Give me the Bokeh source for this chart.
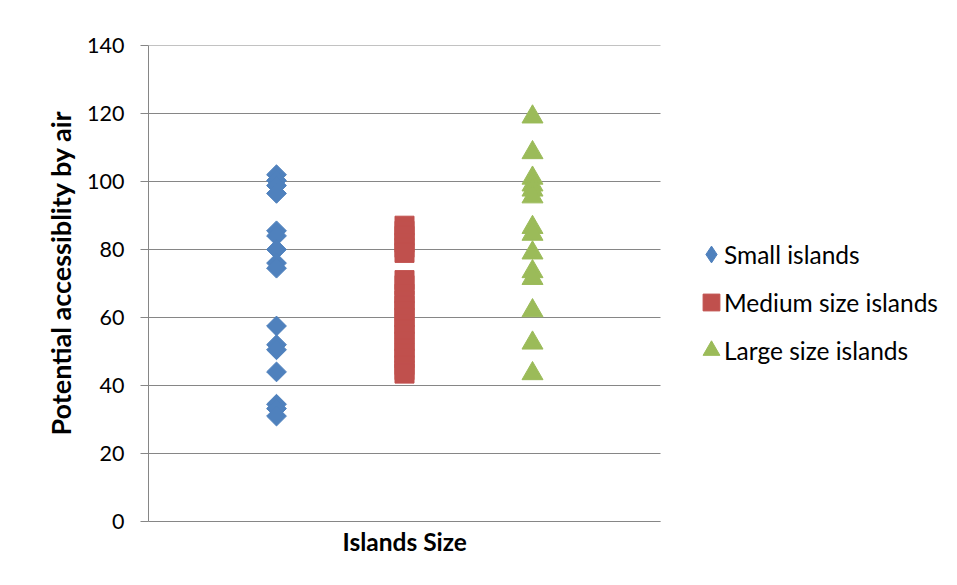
import math
from bokeh.plotting import figure
from bokeh.models import Range1d, FixedTicker, Legend, LegendItem, Title, BoxAnnotation, Node
from bokeh.embed import file_html
from bokeh.resources import INLINE

# ---- data ----
categories = ["Small islands", "Medium size islands", "Large size islands"]
x_positions = [1, 2, 3]
small = [102, 100.3, 98.8, 96.5, 85.5, 84, 80, 76, 74.5, 57.5, 52, 50.5, 44, 34.5, 33.2, 31]
medium = [87, 85.5, 84, 82, 80.5, 79, 71, 69.5, 67, 65, 63.5, 62, 60, 58, 56.5, 55,
          53, 51, 49.5, 48, 46, 44.5, 43.5]
large = [119, 108.5, 101, 99, 97.5, 95.5, 86.5, 84.5, 79, 73.5, 71.5, 62, 52.5, 43.5]
y_ticks = [0, 20, 40, 60, 80, 100, 120, 140]
x_bounds = (0, 4)
x_title = "Islands Size"
y_title = "Potential accessiblity by air"

colors = ["#4F81BD", "#C0504D", "#9BBB59"]
FONT = "Lato"
GRID = "#868686"

p = figure(width=952, height=583, output_backend="svg", toolbar_location=None,
           x_range=Range1d(0, 6.25), y_range=Range1d(0, 140),
           min_border_left=148, min_border_right=4, min_border_top=45, min_border_bottom=62,
           background_fill_color="white", border_fill_color="white")
p.outline_line_color = None
p.xgrid.visible = False
p.ygrid.visible = False

# chart-area frame (top/left edges visible, the rest runs off the picture)
p.add_layout(BoxAnnotation(left=Node(target="canvas", symbol="left", offset=7),
                           top=Node(target="canvas", symbol="top", offset=14),
                           right=Node(target="canvas", symbol="right", offset=20),
                           bottom=Node(target="canvas", symbol="bottom", offset=20),
                           fill_alpha=0, line_color="#2E4A9E", line_width=2))
p.add_layout(BoxAnnotation(left=Node(target="canvas", symbol="left", offset=9),
                           top=Node(target="canvas", symbol="top", offset=16),
                           right=Node(target="canvas", symbol="right", offset=20),
                           bottom=Node(target="canvas", symbol="bottom", offset=20),
                           fill_alpha=0, line_color="#A6A6A6", line_width=1))

# horizontal gridlines limited to the plotting region of the categories
p.segment(x0=[x_bounds[0]] * len(y_ticks), y0=y_ticks,
          x1=[x_bounds[1]] * len(y_ticks), y1=y_ticks,
          line_color=GRID, line_width=1)

r1 = p.scatter([x_positions[0]] * len(small), small, marker="square", angle=math.pi / 4,
               size=14, fill_color=colors[0], line_color=colors[0])
r2 = p.scatter([x_positions[1]] * len(medium), medium, marker="square",
               size=19, fill_color=colors[1], line_color=colors[1])
r3 = p.scatter([x_positions[2]] * len(large), large, marker="triangle",
               size=21, fill_color=colors[2], line_color=colors[2])

# hidden proxies used only for drawing the legend swatches / labels
r1_leg = p.scatter([x_positions[0]] * len(small), small, marker="diamond",
                   fill_color=colors[0], line_color=colors[0], visible=False)
label_proxy = p.scatter([x_positions[0]] * len(small), small, marker="square",
                        fill_alpha=0, line_alpha=0, visible=False)

# y axis
p.yaxis.ticker = FixedTicker(ticks=y_ticks)
p.yaxis.axis_line_color = GRID
p.yaxis.major_tick_line_color = GRID
p.yaxis.major_tick_in = 0
p.yaxis.major_tick_out = 8
p.yaxis.minor_tick_line_color = None
p.yaxis.major_label_text_font = FONT
p.yaxis.major_label_text_font_size = "21.5px"
p.yaxis.major_label_text_color = "black"
p.yaxis.major_label_standoff = 16

# x axis
p.xaxis.bounds = x_bounds
p.xaxis.ticker = FixedTicker(ticks=[])
p.xaxis.axis_line_color = GRID
p.xaxis.major_tick_line_color = None
p.xaxis.minor_tick_line_color = None
p.xaxis.major_label_text_font_size = "0px"
p.xaxis.major_label_standoff = 0

# axis titles
p.add_layout(Title(text=x_title, align="left", offset=194, standoff=7,
                   text_font=FONT, text_font_size="24.5px", text_font_style="bold",
                   text_color="black"), "below")
p.add_layout(Title(text=y_title, align="left", offset=86, standoff=16,
                   text_font=FONT, text_font_size="27px", text_font_style="bold",
                   text_color="black"), "left")

common = dict(orientation="vertical", glyph_height=42, spacing=6, padding=0, margin=0,
              border_line_color=None, background_fill_alpha=0, click_policy="none",
              label_text_font=FONT, label_text_font_size="24.5px", label_text_color="black")
legend_glyphs = Legend(items=[LegendItem(label=" ", renderers=[r]) for r in (r1_leg, r2, r3)],
                       location=(542, 150), glyph_width=42, label_standoff=0, **common)
legend_labels = Legend(items=[LegendItem(label=c, renderers=[label_proxy]) for c in categories],
                       location=(576, 150), glyph_width=0, label_standoff=0, **common)
p.add_layout(legend_glyphs, "center")
p.add_layout(legend_labels, "center")

open("out.html", "w").write(file_html(p, INLINE))
